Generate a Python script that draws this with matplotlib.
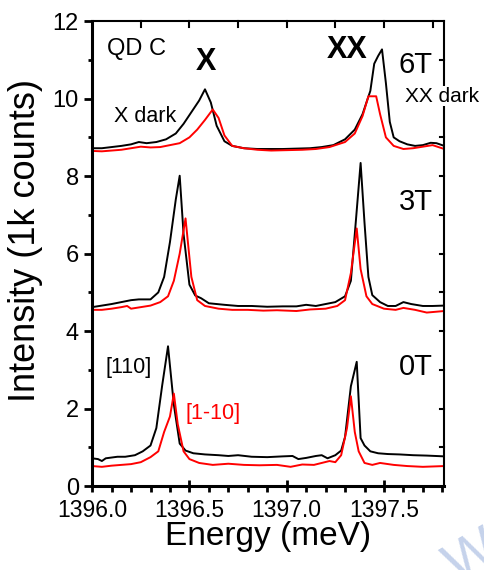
import numpy as np
import matplotlib.pyplot as plt
from matplotlib.ticker import MultipleLocator

plt.rcParams['font.family'] = ['Liberation Sans', 'DejaVu Sans']

# 0T spectra (offset 0)
e_0t_110 = [1396.00, 1396.03, 1396.05, 1396.07, 1396.10, 1396.13, 1396.17, 1396.22, 1396.26, 1396.30,
            1396.33, 1396.36, 1396.39, 1396.42, 1396.45, 1396.48, 1396.52, 1396.58, 1396.65, 1396.70,
            1396.75, 1396.82, 1396.90, 1396.98, 1397.03, 1397.06, 1397.10, 1397.15, 1397.18, 1397.21,
            1397.25, 1397.28, 1397.30, 1397.33, 1397.36, 1397.38, 1397.40, 1397.43, 1397.47, 1397.52,
            1397.58, 1397.65, 1397.72, 1397.81]
i_0t_110 = [0.72, 0.70, 0.65, 0.72, 0.74, 0.76, 0.76, 0.80, 0.90, 1.05,
            1.50, 2.60, 3.61, 2.10, 1.10, 0.92, 0.85, 0.82, 0.80, 0.78,
            0.80, 0.76, 0.75, 0.77, 0.78, 0.70, 0.73, 0.78, 0.80, 0.72,
            0.80, 0.92, 1.27, 2.58, 3.21, 1.24, 1.05, 0.90, 0.85, 0.83,
            0.82, 0.80, 0.79, 0.77]
e_0t_1m10 = [1396.00, 1396.05, 1396.10, 1396.15, 1396.20, 1396.25, 1396.30, 1396.34, 1396.37, 1396.40,
             1396.42, 1396.44, 1396.47, 1396.50, 1396.55, 1396.62, 1396.70, 1396.78, 1396.86, 1396.95,
             1397.02, 1397.08, 1397.14, 1397.18, 1397.22, 1397.25, 1397.28, 1397.31, 1397.33, 1397.35,
             1397.37, 1397.40, 1397.44, 1397.48, 1397.55, 1397.62, 1397.70, 1397.81]
i_0t_1m10 = [0.52, 0.50, 0.53, 0.55, 0.57, 0.62, 0.75, 0.90, 1.40, 1.80,
             2.39, 1.60, 0.90, 0.70, 0.60, 0.55, 0.58, 0.55, 0.54, 0.55,
             0.50, 0.56, 0.55, 0.60, 0.65, 0.62, 0.80, 1.50, 2.32, 1.40,
             0.90, 0.60, 0.55, 0.60, 0.55, 0.52, 0.50, 0.52]

# 3T spectra
e_3t_110 = [1396.00, 1396.05, 1396.10, 1396.15, 1396.20, 1396.24, 1396.30, 1396.34, 1396.37, 1396.40,
            1396.43, 1396.45, 1396.47, 1396.50, 1396.53, 1396.56, 1396.60, 1396.68, 1396.75, 1396.82,
            1396.90, 1396.98, 1397.05, 1397.10, 1397.15, 1397.20, 1397.25, 1397.30, 1397.33, 1397.35,
            1397.38, 1397.40, 1397.42, 1397.44, 1397.48, 1397.52, 1397.56, 1397.60, 1397.64, 1397.70,
            1397.75, 1397.81]
i_3t_110 = [4.62, 4.66, 4.70, 4.75, 4.80, 4.82, 4.82, 5.00, 5.40, 6.30,
            7.40, 8.01, 6.50, 5.20, 4.92, 4.85, 4.72, 4.68, 4.65, 4.65,
            4.63, 4.64, 4.64, 4.68, 4.65, 4.70, 4.75, 4.90, 5.30, 6.50,
            8.34, 6.80, 5.40, 4.93, 4.75, 4.65, 4.65, 4.75, 4.70, 4.65,
            4.65, 4.66]
e_3t_1m10 = [1396.00, 1396.05, 1396.10, 1396.15, 1396.18, 1396.20, 1396.25, 1396.30, 1396.35, 1396.39,
             1396.42, 1396.45, 1396.48, 1396.51, 1396.54, 1396.58, 1396.65, 1396.72, 1396.80, 1396.88,
             1396.95, 1397.05, 1397.12, 1397.20, 1397.26, 1397.30, 1397.33, 1397.36, 1397.38, 1397.41,
             1397.44, 1397.50, 1397.56, 1397.60, 1397.66, 1397.72, 1397.81]
i_3t_1m10 = [4.55, 4.55, 4.58, 4.62, 4.65, 4.58, 4.62, 4.66, 4.75, 4.90,
             5.30, 6.00, 6.91, 5.40, 4.80, 4.65, 4.58, 4.55, 4.55, 4.53,
             4.54, 4.52, 4.56, 4.58, 4.65, 4.80, 5.50, 6.65, 5.60, 4.90,
             4.70, 4.58, 4.55, 4.60, 4.55, 4.48, 4.52]

# 6T spectra
e_6t_110 = [1396.00, 1396.05, 1396.10, 1396.15, 1396.20, 1396.24, 1396.28, 1396.33, 1396.38, 1396.43,
            1396.47, 1396.51, 1396.55, 1396.58, 1396.61, 1396.64, 1396.68, 1396.72, 1396.78, 1396.85,
            1396.92, 1396.98, 1397.05, 1397.12, 1397.18, 1397.24, 1397.30, 1397.35, 1397.39, 1397.43,
            1397.45, 1397.47, 1397.49, 1397.51, 1397.53, 1397.55, 1397.58, 1397.62, 1397.66, 1397.70,
            1397.74, 1397.77, 1397.81]
i_6t_110 = [8.72, 8.72, 8.75, 8.78, 8.82, 8.88, 8.85, 8.88, 8.95, 9.10,
            9.35, 9.65, 9.95, 10.24, 9.90, 9.30, 8.90, 8.78, 8.72, 8.70,
            8.70, 8.70, 8.71, 8.72, 8.75, 8.80, 8.95, 9.20, 9.60, 10.20,
            10.90, 11.10, 11.27, 10.40, 9.40, 9.00, 8.90, 8.82, 8.78, 8.80,
            8.86, 8.85, 8.78]
e_6t_1m10 = [1396.00, 1396.05, 1396.10, 1396.15, 1396.20, 1396.25, 1396.30, 1396.35, 1396.40, 1396.45,
             1396.50, 1396.54, 1396.58, 1396.62, 1396.65, 1396.68, 1396.72, 1396.78, 1396.85, 1396.92,
             1397.00, 1397.08, 1397.15, 1397.22, 1397.30, 1397.35, 1397.39, 1397.42, 1397.46, 1397.48,
             1397.51, 1397.55, 1397.60, 1397.65, 1397.70, 1397.75, 1397.81]
i_6t_1m10 = [8.65, 8.64, 8.66, 8.68, 8.72, 8.76, 8.74, 8.75, 8.80, 8.85,
             9.00, 9.20, 9.45, 9.72, 9.50, 9.05, 8.78, 8.72, 8.68, 8.66,
             8.67, 8.68, 8.70, 8.75, 8.88, 9.10, 9.55, 10.06, 10.06, 9.60,
             9.00, 8.78, 8.70, 8.72, 8.76, 8.80, 8.70]

fig = plt.figure(figsize=(4.85, 5.7), dpi=100)
ax = fig.add_axes([0.19, 0.147, 0.726, 0.816])

for e, i in [(e_0t_110, i_0t_110), (e_3t_110, i_3t_110), (e_6t_110, i_6t_110)]:
    ax.plot(e, i, color='black', lw=1.4)
for e, i in [(e_0t_1m10, i_0t_1m10), (e_3t_1m10, i_3t_1m10), (e_6t_1m10, i_6t_1m10)]:
    ax.plot(e, i, color='red', lw=1.4)

ax.set_xlim(1396.0, 1397.81)
ax.set_ylim(0, 12)
ax.xaxis.set_major_locator(MultipleLocator(0.5))
ax.xaxis.set_minor_locator(MultipleLocator(0.1))
ax.yaxis.set_major_locator(MultipleLocator(2))
ax.yaxis.set_minor_locator(MultipleLocator(1))
ax.xaxis.set_major_formatter(plt.FormatStrFormatter('%.1f'))
ax.tick_params(axis='x', which='major', direction='inout', length=8, width=2, labelsize=16.5, pad=5)
ax.tick_params(axis='x', which='minor', direction='out', length=4, width=2)
ax.tick_params(axis='y', which='major', direction='out', length=6, width=2, labelsize=17)
ax.tick_params(axis='y', which='minor', direction='out', length=3, width=2)
for s in ax.spines.values():
    s.set_linewidth(1.5)
ax.spines['left'].set_linewidth(2.2)
ax.spines['bottom'].set_linewidth(2.2)

# inward ticks on top and right
for x in np.arange(1396.25, 1397.81, 0.25):
    ax.plot([x, x], [12, 11.85], color='black', lw=1.5, clip_on=False)
for y in range(1, 12):
    ax.plot([1397.81, 1397.79], [y, y], color='black', lw=1.5, clip_on=False)

ax.set_xlabel('Energy (meV)', fontsize=24)
ax.xaxis.set_label_coords(0.501, -0.075)
ax.set_ylabel('Intensity (1k counts)', fontsize=26)
ax.yaxis.set_label_coords(-0.14, 0.528)

ax.text(1396.077, 11.12, 'QD C', fontsize=17)
ax.text(1396.53, 10.74, 'X', fontsize=22, fontweight='bold')
ax.text(1397.206, 11.05, 'XX', fontsize=22, fontweight='bold')
ax.text(1397.577, 10.66, '6T', fontsize=21)
ax.text(1396.11, 9.40, 'X dark', fontsize=15.5)
ax.text(1397.61, 9.92, 'XX dark', fontsize=15,
        bbox=dict(facecolor='white', edgecolor='none', pad=0.5))
ax.text(1397.577, 7.12, '3T', fontsize=21)
ax.text(1397.577, 2.86, '0T', fontsize=21)
ax.text(1396.067, 2.92, '[110]', fontsize=15.5)
ax.text(1396.48, 1.73, '[1-10]', fontsize=15.5, color='red')

fig.text(0.9, -0.02, 'W', fontsize=40, color='#b7c7e6', rotation=30, alpha=0.8)

fig.savefig('out.png', dpi=100)
